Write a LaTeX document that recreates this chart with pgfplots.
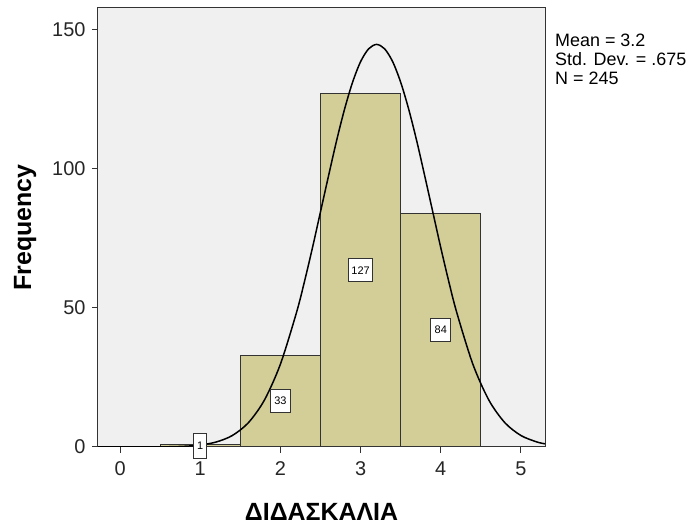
\documentclass[border=0pt]{standalone}
\usepackage{fontspec}
\setmainfont{Liberation Sans}
\usepackage{pgfplots}
\pgfplotsset{compat=1.18}
\definecolor{bgcol}{HTML}{F0F0F0}
\definecolor{barcol}{HTML}{D3CE97}
\definecolor{edge}{HTML}{333333}
\begin{document}
\begin{tikzpicture}[x=1bp,y=1bp]
\path[use as bounding box] (-98,-81) rectangle (597,447);
\begin{axis}[name=ax, at={(0,0)}, anchor=south west, scale only axis,
  width=447bp, height=439bp,
  xmin=-0.275, xmax=5.3, ymin=0, ymax=157.9,
  axis background/.style={fill=bgcol},
  axis line style={draw=edge, line width=1bp},
  xtick={0,1,2,3,4,5}, ytick={0,50,100,150},
  tick align=outside, tick pos=left, major tick length=6bp,
  tick style={draw=edge, line width=1bp},
  ticklabel style={font=\fontsize{20}{22}\selectfont, text=black!85},
  xticklabel style={yshift=-5bp},
  yticklabel style={xshift=-3bp},
  /pgf/number format/assume math mode=true,
  xlabel={ΔΙΔΑΣΚΑΛΙΑ}, ylabel={Frequency},
  label style={font=\fontsize{25}{28}\selectfont\bfseries},
  xlabel style={at={(axis description cs:0.5,-0.148)}, anchor=center},
  ylabel style={at={(axis description cs:-0.163,0.5)}, anchor=center},
]
\addplot[ybar interval, fill=barcol, draw=edge, line width=1bp]
  coordinates {(0.5,1) (1.5,33) (2.5,127) (3.5,84) (4.5,84)};
\addplot[smooth, black, line width=1.5bp, mark=none] coordinates {
  (-0.275,0) (0.5,0.05) (0.8,0.26) (1.0,0.72) (1.2,1.80) (1.4,4.13) (1.6,8.72)
  (1.8,16.85) (2.0,29.8) (2.2,48.3) (2.3,59.5) (2.4,71.7) (2.5,84.6) (2.6,97.5)
  (2.7,110.1) (2.8,121.5) (2.9,131.2) (3.0,138.6) (3.1,143.2) (3.2,144.8)
  (3.3,143.2) (3.4,138.6) (3.5,131.2) (3.6,121.5) (3.7,110.1) (3.8,97.5)
  (3.9,84.6) (4.0,71.7) (4.1,59.5) (4.2,48.3) (4.4,29.8) (4.6,16.85)
  (4.8,8.72) (5.0,4.13) (5.2,1.80) (5.3,1.15)};
\addplot[draw=none, mark=none, nodes near coords, point meta=explicit symbolic,
  nodes near coords style={anchor=center, draw=edge, fill=white, line width=1bp,
    font=\fontsize{11}{12}\selectfont, inner sep=3bp, minimum height=23bp, minimum width=20bp}]
  coordinates {(2,16.5)[33] (3,63.5)[127] (4,42)[84]};
\addplot[draw=none, mark=none, nodes near coords, point meta=explicit symbolic,
  nodes near coords style={anchor=center, draw=edge, fill=white, line width=1bp,
    font=\fontsize{11}{12}\selectfont, inner sep=2bp, minimum height=25bp, minimum width=13bp}]
  coordinates {(1,0.5)[1]};
\end{axis}
\node[anchor=north west, align=left, inner sep=0pt,
  font=\fontsize{18}{19}\selectfont] at ([xshift=10bp, yshift=-26bp]ax.north east)
  {Mean = 3.2\\Std. Dev. = .675\\N = 245};
\end{tikzpicture}
\end{document}
